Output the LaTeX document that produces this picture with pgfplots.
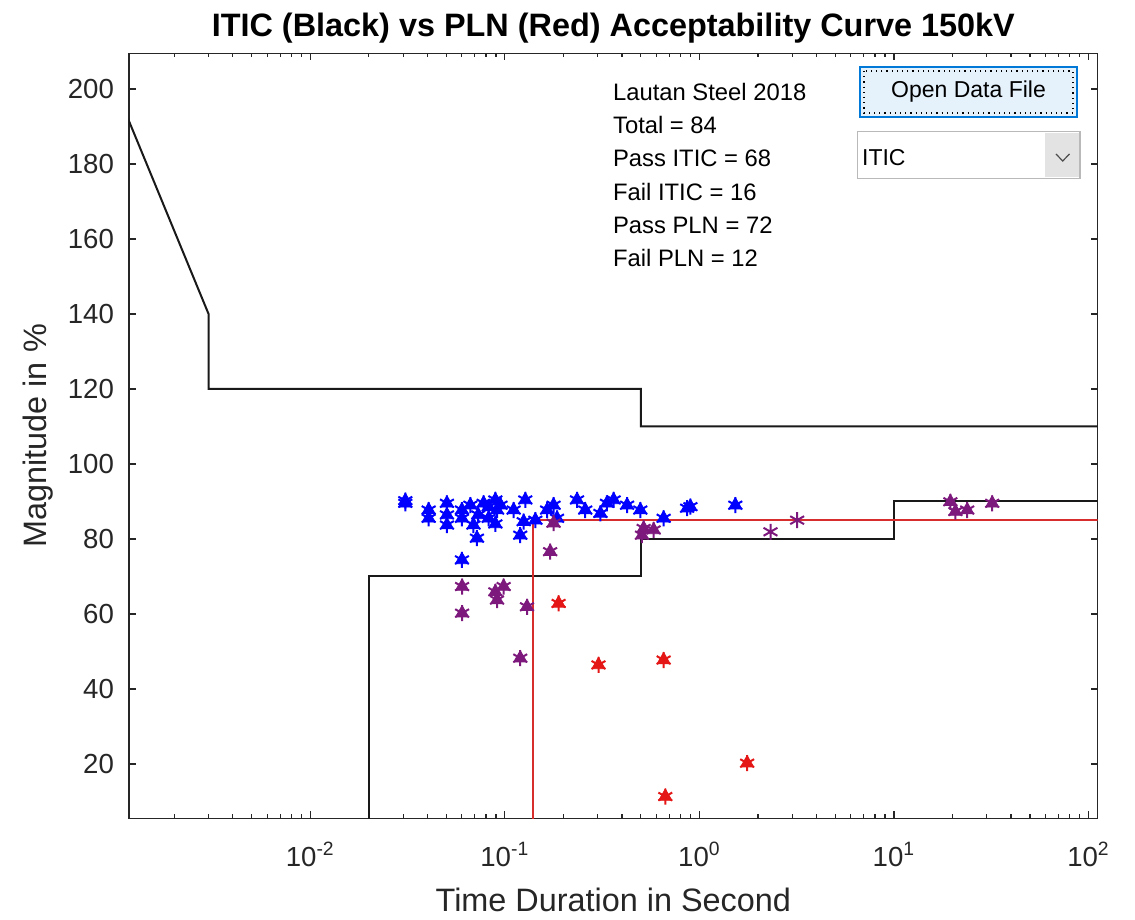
\documentclass[border=0pt]{standalone}
\usepackage{pgfplots}
\usepackage{pgfplotstable}
\pgfplotsset{compat=1.18}
\usepackage{fontspec}
\setmainfont{Liberation Sans}
\definecolor{axgray}{RGB}{38,38,38}
\definecolor{mblue}{RGB}{0,0,255}
\definecolor{mpurple}{RGB}{125,25,125}
\definecolor{mred}{RGB}{228,22,22}
\definecolor{plnred}{RGB}{215,45,45}
\definecolor{btnfill}{RGB}{229,241,251}
\definecolor{btnedge}{RGB}{0,120,215}

\pgfplotstableread{
t v
0.0308 89.5
0.0308 90.2
0.0406 87.7
0.0406 85.5
0.0504 89.5
0.0504 86.4
0.0504 83.7
0.0602 87.7
0.0602 85.5
0.0602 74.4
0.0665 89.0
0.0690 83.7
0.0719 80.2
0.0730 86.4
0.0778 89.5
0.0826 85.5
0.0826 88.5
0.0894 90.4
0.0912 87.7
0.0894 84.0
0.0950 89.0
0.111 87.7
0.1274 90.4
0.125 84.6
0.120 81.0
0.1435 85.0
0.165 87.7
0.178 89.0
0.1855 85.5
0.235 90.4
0.259 87.7
0.310 86.8
0.335 89.5
0.3625 90.4
0.425 89.0
0.497 87.7
0.655 85.5
0.865 88.2
0.899 88.6
1.53 89.0
}\blueData

\pgfplotstableread{
t v
0.0603 67.3
0.0603 60.2
0.0894 65.9
0.0986 67.3
0.0912 63.7
0.130 61.9
0.120 48.2
0.171 76.6
0.178 84.2
0.507 81.0
0.517 82.8
0.582 82.4
19.5 89.9
20.7 87.3
23.8 87.7
32 89.5
}\purpleData

\pgfplotstableread{
t v
2.32 81.9
3.18 85.0
}\purpleStar

\pgfplotstableread{
t v
0.189 62.8
0.303 46.4
0.655 47.7
0.668 11.3
1.76 20.2
}\redData

\begin{document}
\begin{tikzpicture}
\path[use as bounding box] (-64.5pt,-50.85pt) rectangle (503pt,409.15pt);
\begin{axis}[
  scale only axis, width=484.35pt, height=382.5pt,
  xmode=log, xmin=0.00117, xmax=111.5, ymin=5.5, ymax=209.5,
  axis line style={axgray, line width=0.6pt},
  every tick/.style={axgray, line width=0.6pt},
  major tick length=3.5pt, minor tick length=2pt,
  tick align=inside,
  xtick={0.01,0.1,1,10,100},
  xticklabels={10\textsuperscript{-2},10\textsuperscript{-1},10\textsuperscript{0},10\textsuperscript{1},10\textsuperscript{2}},
  minor xtick={0.002,0.003,0.004,0.005,0.006,0.007,0.008,0.009,
    0.02,0.03,0.04,0.05,0.06,0.07,0.08,0.09,
    0.2,0.3,0.4,0.5,0.6,0.7,0.8,0.9,
    2,3,4,5,6,7,8,9,20,30,40,50,60,70,80,90},
  ytick={20,40,...,200},
  yticklabel style={font=\fontsize{13.8}{16}\selectfont, text=axgray, /pgf/number format/assume math mode=true, xshift=-4pt},
  xticklabel style={font=\fontsize{13.8}{16}\selectfont, text=axgray, yshift=-8.5pt},
  every axis title shift=0pt,
  title={ITIC (Black) vs PLN (Red) Acceptability Curve 150kV},
  title style={font=\bfseries\fontsize{16.2}{19}\selectfont, text=black, at={(axis description cs:0.5,1.033)}, anchor=center, yshift=0pt},
  xlabel={Time Duration in Second},
  xlabel style={font=\fontsize{16.2}{19}\selectfont, text=axgray, at={(axis description cs:0.5,-0.107)}, anchor=center},
  ylabel={Magnitude in \%},
  ylabel style={font=\fontsize{16.2}{19}\selectfont, text=axgray, at={(axis description cs:-0.094,0.5)}, anchor=center},
  clip=true,
]
% ITIC upper
\addplot[black!90, line width=1pt, mark=none] coordinates {(0.001,200) (0.003,140) (0.003,120) (0.5,120) (0.5,110) (1000,110)};
% ITIC lower
\addplot[black!90, line width=1pt, mark=none] coordinates {(0.02,0) (0.02,70) (0.5,70) (0.5,80) (10,80) (10,90) (1000,90)};
% PLN
\addplot[plnred, line width=0.8pt, mark=none] coordinates {(0.14,0) (0.14,85) (1000,85)};

\addplot[only marks, mark=triangle*, mark size=3.8pt, color=mblue, mark options={fill=mblue}] table {\blueData};
\addplot[only marks, mark=asterisk, mark size=4pt, color=mblue, mark options={line width=1pt}] table {\blueData};
\addplot[only marks, mark=triangle*, mark size=3.8pt, color=mpurple, mark options={fill=mpurple}] table {\purpleData};
\addplot[only marks, mark=asterisk, mark size=4pt, color=mpurple, mark options={line width=1pt}] table {\purpleData};
\addplot[only marks, mark=asterisk, mark size=4pt, color=mpurple, mark options={line width=1pt}] table {\purpleStar};
\addplot[only marks, mark=triangle*, mark size=3.8pt, color=mred, mark options={fill=mred}] table {\redData};
\addplot[only marks, mark=asterisk, mark size=4pt, color=mred, mark options={line width=1pt}] table {\redData};
\end{axis}
\begin{scope}[xshift=-64.5pt,yshift=409.15pt,x=0.5pt,y=-0.5pt]
\foreach \txt [count=\i] in {Lautan Steel 2018,Total = 84,Pass ITIC = 68,Fail ITIC = 16,Pass PLN = 72,Fail PLN = 12}{
  \node[anchor=base west, inner sep=0pt, font=\fontsize{11.9}{14}\selectfont, text=black] at (612.7,{100.2+33.3*(\i-1)}) {\txt};
}
\draw[btnedge, fill=btnfill, line width=0.8pt] (860,67) rectangle (1077,117);
\draw[black, dotted, line width=0.6pt] (864,71) rectangle (1073,113);
\node[font=\fontsize{11.5}{14}\selectfont, text=black] at (968.5,92) {Open Data File};
\draw[fill=white, draw=gray!55, line width=0.6pt] (857.7,131.7) rectangle (1080,178.3);
\fill[gray!22] (1045,132.6) rectangle (1079.2,177.4);
\node[anchor=base west, inner sep=0pt, font=\fontsize{11.5}{14}\selectfont, text=black] at (861.7,166) {ITIC};
\draw[gray!60!black, line width=0.6pt] (1056,154) -- (1062.7,161) -- (1069.5,154);
\end{scope}
\end{tikzpicture}
\end{document}
